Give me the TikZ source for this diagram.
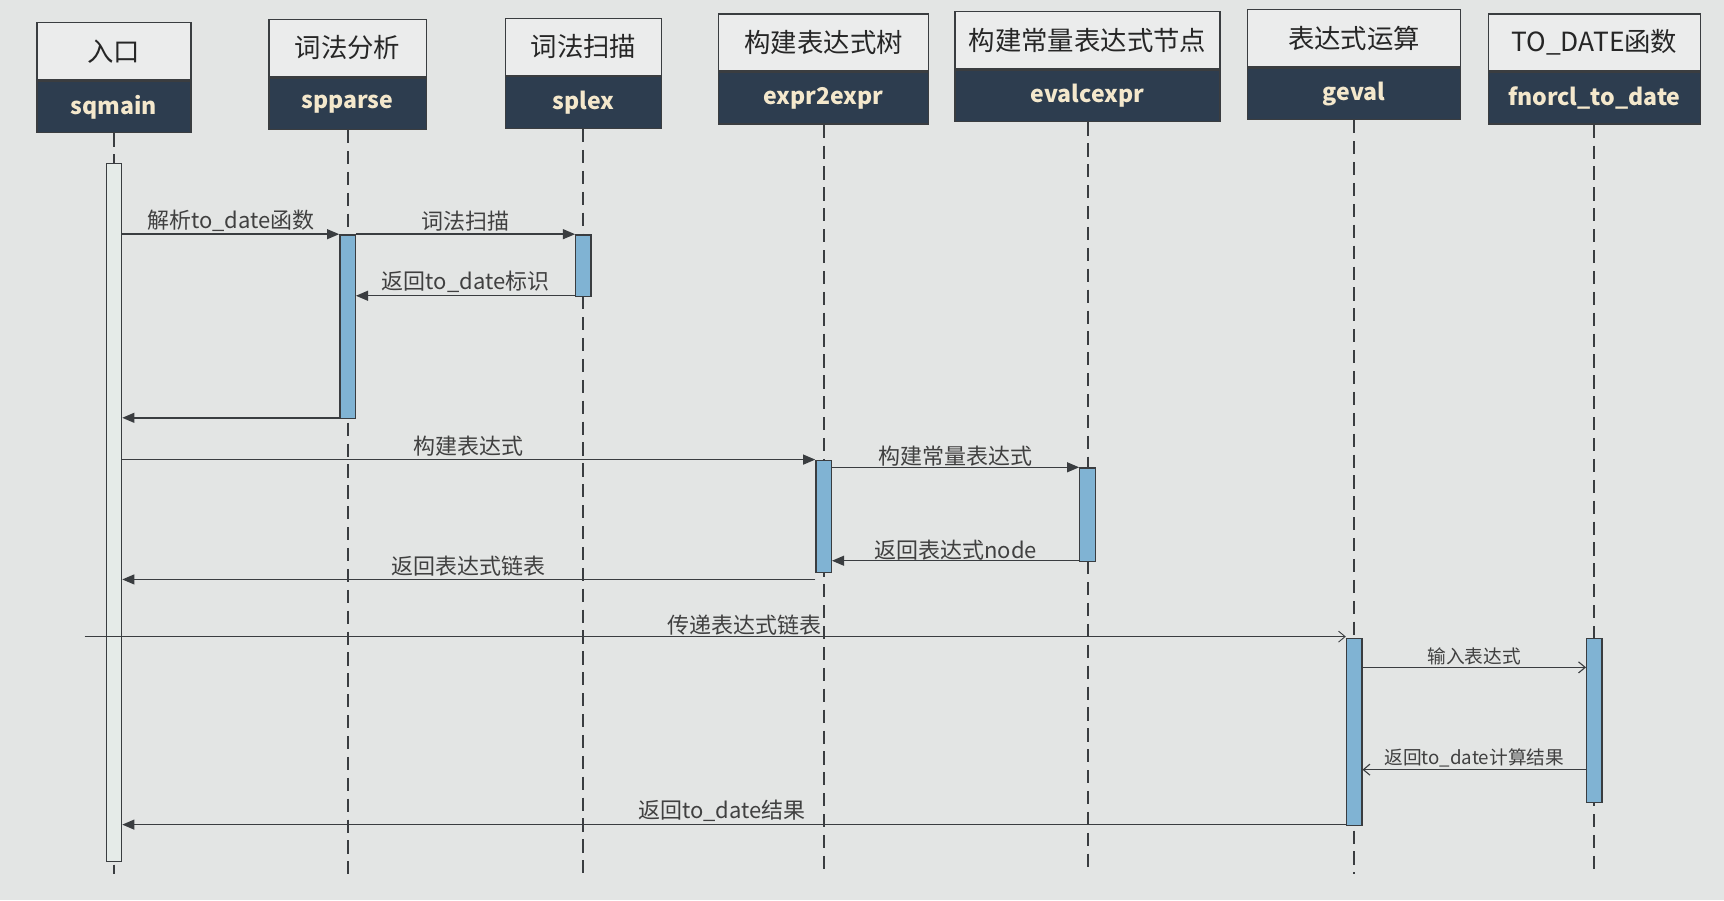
\documentclass[tikz,border=0pt]{standalone}
\usepackage{fontspec}
\setmainfont{Noto Sans CJK SC}
\usetikzlibrary{arrows.meta,positioning}

\definecolor{bgcol}{HTML}{E3E5E4}
\definecolor{headlight}{HTML}{EBECEC}
\definecolor{headdark}{HTML}{2D3D4F}
\definecolor{namecol}{HTML}{F4E8CC}
\definecolor{actblue}{HTML}{80B3D3}
\definecolor{actmain}{HTML}{E5EBE8}
\definecolor{linecol}{HTML}{3A3D40}

\begin{document}
\begin{tikzpicture}[x=1pt,y=-1pt,
  headtop/.style={draw=linecol,line width=1.2pt,fill=headlight,inner sep=0pt,anchor=north west,
    minimum height=52pt,text=black!85,font=\fontsize{24}{26}\selectfont},
  headbot/.style={draw=linecol,line width=1.2pt,fill=headdark,inner sep=0pt,anchor=north,
    minimum height=47pt,text=namecol,font=\fontsize{21}{24}\selectfont\bfseries},
  lifeline/.style={linecol,line width=1.8pt,dash pattern=on 12pt off 7pt},
  actbar/.style={draw=linecol,line width=1.2pt,fill=actblue,inner sep=0pt,minimum width=14pt,anchor=north},
  call/.style={linecol,line width=1.3pt,-{Triangle[length=11pt,width=9pt]}},
  async/.style={linecol,line width=1pt,-{Straight Barb[length=6pt,width=10pt]}},
  msglabel/.style={font=\fontsize{20}{22}\selectfont,text=black!75,inner sep=2pt,above},
  smalllabel/.style={msglabel,font=\fontsize{17}{19}\selectfont}]

\pgfmathsetmacro{\lifeend}{795}

% Background:
\fill[bgcol] (0,0) rectangle (1568,819);
\useasboundingbox (0,0) rectangle (1568,819);

% Heads of the lifelines:
\node[headtop,minimum width=140pt] (roleMain) at (33,20) {入口};
\node[headbot,minimum width=140pt] (objMain) at (roleMain.south) {sqmain};
\node[headtop,minimum width=143pt] (roleParse) at (244,17) {词法分析};
\node[headbot,minimum width=143pt] (objParse) at (roleParse.south) {spparse};
\node[headtop,minimum width=142pt] (roleLex) at (459,16) {词法扫描};
\node[headbot,minimum width=142pt] (objLex) at (roleLex.south) {splex};
\node[headtop,minimum width=191pt] (roleExpr) at (653,12) {构建表达式树};
\node[headbot,minimum width=191pt] (objExpr) at (roleExpr.south) {expr2expr};
\node[headtop,minimum width=241pt] (roleEval) at (868,10) {构建常量表达式节点};
\node[headbot,minimum width=241pt] (objEval) at (roleEval.south) {evalcexpr};
\node[headtop,minimum width=194pt] (roleGeval) at (1134,8) {表达式运算};
\node[headbot,minimum width=194pt] (objGeval) at (roleGeval.south) {geval};
\node[headtop,minimum width=193pt] (roleFn) at (1353,12) {TO\_DATE函数};
\node[headbot,minimum width=193pt] (objFn) at (roleFn.south) {fnorcl\_to\_date};

% Dashed lifelines:
\coordinate (lifebottom) at (0,\lifeend);
\foreach \o in {Main,Parse,Lex,Expr,Eval,Geval,Fn}
  \draw[lifeline] (obj\o.south) -- (obj\o.south |- lifebottom);

% Activation bars:
\node[actbar,fill=actmain,minimum height=635pt] (actMain) at (objMain.south |- 0,148) {};
\node[actbar,minimum height=167pt] (actParse) at (objParse.south |- 0,213) {};
\node[actbar,minimum height=56pt] (actLex) at (objLex.south |- 0,213) {};
\node[actbar,minimum height=102pt] (actExpr) at (objExpr.south |- 0,418) {};
\node[actbar,minimum height=85pt] (actEval) at (objEval.south |- 0,425) {};
\node[actbar,minimum height=170pt] (actGeval) at (objGeval.south |- 0,580) {};
\node[actbar,minimum height=149pt] (actFn) at (objFn.south |- 0,580) {};

% Message rows:
\foreach \n/\y in {1/213,2/269,3/380,4/418,5/425,6/510,7/527,8/579,9/607,10/700,11/750}
  \coordinate (r\n) at (0,\y);
\coordinate (found) at (77,579);

% Messages:
\draw[call] (actMain.east |- r1) -- node[msglabel] {解析to\_date函数} (actParse.west |- r1);
\draw[call] (actParse.east |- r1) -- node[msglabel] {词法扫描} (actLex.west |- r1);
\draw[call] (actLex.west |- r2) -- node[msglabel] {返回to\_date标识} (actParse.east |- r2);
\draw[call] (actParse.west |- r3) -- (actMain.east |- r3);
\draw[call] (actMain.east |- r4) -- node[msglabel] {构建表达式} (actExpr.west |- r4);
\draw[call] (actExpr.east |- r5) -- node[msglabel,inner sep=0pt] {构建常量表达式} (actEval.west |- r5);
\draw[call] (actEval.west |- r6) -- node[msglabel,inner sep=0pt] {返回表达式node} (actExpr.east |- r6);
\draw[call] (actExpr.west |- r7) -- node[msglabel] {返回表达式链表} (actMain.east |- r7);
\draw[async,line width=0.8pt] (found) -- node[msglabel,pos=0.523,inner sep=1pt] {传递表达式链表} (actGeval.west |- r8);
\draw[async] (actGeval.east |- r9) -- node[smalllabel] {输入表达式} (actFn.west |- r9);
\draw[async] (actFn.west |- r10) -- node[smalllabel] {返回to\_date计算结果} (actGeval.east |- r10);
\draw[call] (actGeval.west |- r11) -- node[msglabel,pos=0.51] {返回to\_date结果} (actMain.east |- r11);

\end{tikzpicture}
\end{document}
